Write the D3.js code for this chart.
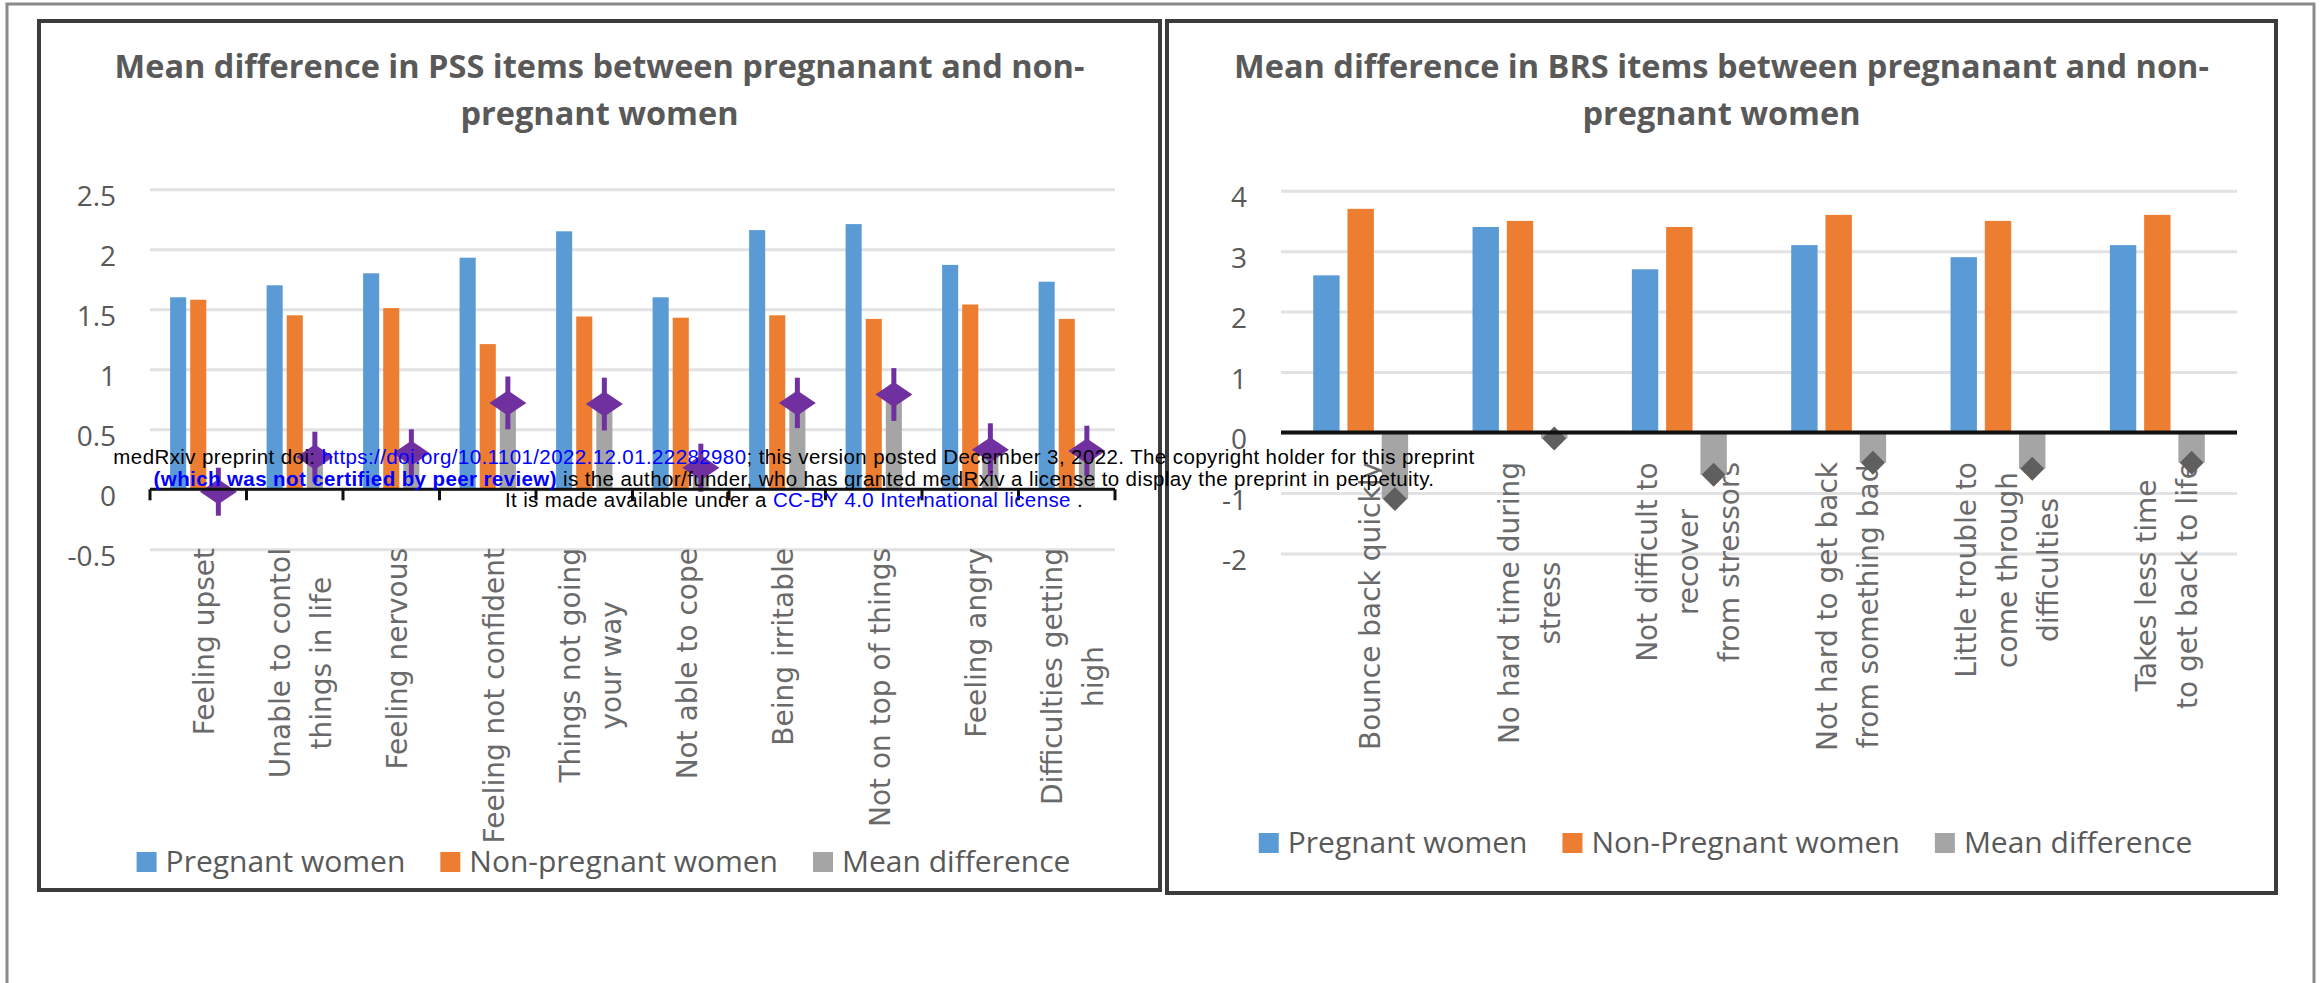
<!DOCTYPE html>
<html>
<head>
<meta charset="utf-8">
<script src="https://cdn.jsdelivr.net/npm/d3@7/dist/d3.min.js"></script>
<style>
body { margin: 0; background: #fff; }
svg { display: block; }
</style>
</head>
<body>
<svg id="fig" width="2322" height="983"></svg>
<script>
// ---- PSS chart (left) ----
var pssItems = [
  ["Feeling upset"],
  ["Unable to contol", "things in life"],
  ["Feeling nervous"],
  ["Feeling not confident"],
  ["Things not going", "your way"],
  ["Not able to cope"],
  ["Being irritable"],
  ["Not on top of things"],
  ["Feeling angry"],
  ["Difficulties getting", "high"]
];
var pssPregnant    = [1.60, 1.70, 1.80, 1.93, 2.15, 1.60, 2.16, 2.21, 1.87, 1.73];
var pssNonPregnant = [1.58, 1.45, 1.51, 1.21, 1.44, 1.43, 1.45, 1.42, 1.54, 1.42];
var pssMeanDiff    = [-0.02, 0.27, 0.30, 0.72, 0.71, 0.18, 0.72, 0.79, 0.33, 0.32];
var pssDiffError   = [0.20, 0.21, 0.20, 0.22, 0.22, 0.20, 0.21, 0.22, 0.22, 0.21];
var pssTicks = [-0.5, 0, 0.5, 1, 1.5, 2, 2.5];
var pssLegend = ["Pregnant women", "Non-pregnant women", "Mean difference"];

// ---- BRS chart (right) ----
var brsItems = [
  ["Bounce back quickly"],
  ["No hard time during", "stress"],
  ["Not difficult to", "recover", "from stressors"],
  ["Not hard to get back", "from something bad"],
  ["Little trouble to", "come through", "difficulties"],
  ["Takes less time", "to get back to life"]
];
var brsPregnant    = [2.6, 3.4, 2.7, 3.1, 2.9, 3.1];
var brsNonPregnant = [3.7, 3.5, 3.4, 3.6, 3.5, 3.6];
var brsMeanDiff    = [-1.1, -0.1, -0.7, -0.5, -0.6, -0.5];
var brsTicks = [-2, -1, 0, 1, 2, 3, 4];
var brsLegend = ["Pregnant women", "Non-Pregnant women", "Mean difference"];

var colors = ["#5B9BD5", "#ED7D31", "#A5A5A5"];
var titleFont = "'Open Sans', sans-serif";
var labelFont = "'DejaVu Sans', sans-serif";

var svg = d3.select("#fig");

// page frame
svg.append("rect").attr("x", 7).attr("y", 4).attr("width", 2307).attr("height", 1100)
  .attr("fill", "none").attr("stroke", "#8a8a8a").attr("stroke-width", 3);

function drawChart(o) {
  var g = svg.append("g");

  g.append("rect").attr("x", o.box[0]).attr("y", o.box[1]).attr("width", o.box[2]).attr("height", o.box[3])
    .attr("fill", "#fff").attr("stroke", "#3c3c3c").attr("stroke-width", 4);

  var cx = o.box[0] + o.box[2] / 2;

  // title
  var title = g.append("text").attr("text-anchor", "middle").attr("font-family", titleFont)
    .attr("font-weight", "bold").attr("font-size", o.titleSize).attr("fill", "#595959");
  o.title.forEach(function(s, j) {
    title.append("tspan").attr("x", cx).attr("y", 78 + j * 47).text(s);
  });

  var x0 = d3.scaleBand().domain(d3.range(o.items.length)).range(o.xRange).padding(0);
  var x1 = d3.scaleBand().domain([0, 1, 2]).range([0, x0.bandwidth()])
    .paddingInner(o.innerPad).paddingOuter(o.outerPad);
  var y = d3.scaleLinear().domain(o.yDomain).range(o.yRange);
  var w = o.xRange[1] - o.xRange[0];

  // gridlines
  g.append("g").attr("transform", "translate(" + o.xRange[0] + ",0)")
    .call(d3.axisLeft(y).tickValues(o.ticks).tickSize(-w).tickFormat(""))
    .call(function(s) { s.select(".domain").remove(); })
    .call(function(s) { s.selectAll("line").attr("stroke", "#e2e2e2").attr("stroke-width", 3); });

  // value labels
  g.append("g").attr("transform", "translate(" + (o.xRange[0] - 34) + ",0)")
    .call(d3.axisLeft(y).tickValues(o.ticks).tickSize(0).tickPadding(0).tickFormat(function(d) { return String(d); }))
    .call(function(s) { s.select(".domain").remove(); })
    .call(function(s) {
      s.selectAll("text").attr("font-family", titleFont).attr("font-size", 28)
        .attr("fill", "#595959").attr("dy", "0.58em");
    });

  // category labels, rotated, lines centred, block hanging from o.labelTop
  o.items.forEach(function(lines, i) {
    var lg = g.append("g")
      .attr("transform", "translate(" + (x0(i) + x0.bandwidth() / 2) + "," + o.labelTop + ") rotate(-90)");
    var texts = lines.map(function(s, j) {
      return lg.append("text").attr("font-family", labelFont).attr("font-size", 28)
        .attr("fill", "#6a6a6a").attr("text-anchor", "middle")
        .attr("y", (j - (lines.length - 1) / 2) * 41 + o.labelShift).text(s);
    });
    var maxLen = d3.max(texts, function(t) { return t.node().getComputedTextLength(); });
    texts.forEach(function(t) { t.attr("x", -maxLen / 2); });
  });

  // bars
  var series = [o.pregnant, o.nonPregnant, o.meanDiff];
  g.append("g").selectAll("g").data(series).join("g")
    .attr("fill", function(d, k) { return colors[k]; })
    .selectAll("rect")
    .data(function(vals, k) { return vals.map(function(v, i) { return {i: i, k: k, v: v}; }); })
    .join("rect")
    .attr("x", function(d) { return x0(d.i) + x1(d.k); })
    .attr("width", x1.bandwidth())
    .attr("y", function(d) { return y(Math.max(0, d.v)); })
    .attr("height", function(d) { return Math.abs(y(d.v) - y(0)); });

  // mean difference markers
  var mx = function(i) { return x0(i) + x1(2) + x1.bandwidth() / 2; };
  if (o.error) {
    g.append("g").selectAll("line").data(o.meanDiff).join("line")
      .attr("x1", function(d, i) { return mx(i); }).attr("x2", function(d, i) { return mx(i); })
      .attr("y1", function(d, i) { return y(d - o.error[i]); })
      .attr("y2", function(d, i) { return y(d + o.error[i]); })
      .attr("stroke", o.markerColor).attr("stroke-width", 5);
  }
  var mw = o.markerSize[0], mh = o.markerSize[1];
  var diamond = "M0," + (-mh) + "L" + mw + ",0L0," + mh + "L" + (-mw) + ",0Z";
  g.append("g").selectAll("path").data(o.meanDiff).join("path")
    .attr("d", diamond).attr("fill", o.markerColor)
    .attr("transform", function(d, i) { return "translate(" + mx(i) + "," + y(d) + ")"; });

  // zero axis line (+ tick marks between categories for the left chart)
  g.append("line").attr("x1", o.xRange[0]).attr("x2", o.xRange[1])
    .attr("y1", y(0)).attr("y2", y(0)).attr("stroke", "#111").attr("stroke-width", o.axisWidth);
  if (o.catTicks) {
    g.append("g").selectAll("line").data(d3.range(o.items.length + 1)).join("line")
      .attr("x1", function(i) { return o.xRange[0] + i * x0.step(); })
      .attr("x2", function(i) { return o.xRange[0] + i * x0.step(); })
      .attr("y1", y(0)).attr("y2", y(0) + 11).attr("stroke", "#111").attr("stroke-width", 3);
  }

  // legend
  var leg = g.append("g");
  var items = o.legend.map(function(s, k) {
    var it = leg.append("g");
    it.append("rect").attr("width", 20).attr("height", 20).attr("y", -20).attr("fill", colors[k]);
    var t = it.append("text").attr("x", 29).attr("font-family", titleFont).attr("font-size", 30)
      .attr("fill", "#595959").text(s);
    return {g: it, w: 29 + t.node().getComputedTextLength()};
  });
  var total = d3.sum(items, function(d) { return d.w; }) + 35 * (items.length - 1);
  var lx = cx + 4 - total / 2;
  items.forEach(function(d) {
    d.g.attr("transform", "translate(" + lx + "," + o.legendY + ")");
    lx += d.w + 35;
  });
}

drawChart({
  box: [39, 21, 1121, 869],
  title: ["Mean difference in PSS items between pregnanant and non-", "pregnant women"],
  titleSize: 32.5,
  items: pssItems, pregnant: pssPregnant, nonPregnant: pssNonPregnant,
  meanDiff: pssMeanDiff, error: pssDiffError, ticks: pssTicks, legend: pssLegend,
  xRange: [150, 1115], yDomain: [-0.5, 2.5], yRange: [549.3, 189.3],
  innerPad: 0.2, outerPad: 1.0,
  labelTop: 548, labelShift: 16,
  markerColor: "#7030A0", markerSize: [18.5, 12.5],
  axisWidth: 3, catTicks: true, legendY: 872
});

drawChart({
  box: [1167, 21, 1109, 872],
  title: ["Mean difference in BRS items between pregnanant and non-", "pregnant women"],
  titleSize: 32.5,
  items: brsItems, pregnant: brsPregnant, nonPregnant: brsNonPregnant,
  meanDiff: brsMeanDiff, error: null, ticks: brsTicks, legend: brsLegend,
  xRange: [1281, 2237], yDomain: [-2, 4], yRange: [553.4, 190.7],
  innerPad: 0.23, outerPad: 0.94,
  labelTop: 462, labelShift: 19,
  markerColor: "#5f5f5f", markerSize: [12, 12],
  axisWidth: 4, catTicks: false, legendY: 853
});

// preprint stamp on top
var stamp = svg.append("g").attr("font-family", "'Liberation Sans', Arial, sans-serif")
  .attr("font-size", 20.5).attr("letter-spacing", 0.4).attr("text-anchor", "middle");
var stampLines = [
  [["medRxiv preprint doi: ", "#000", "normal"], ["https://doi.org/10.1101/2022.12.01.22282980", "#0000ff", "normal"],
   ["; this version posted December 3, 2022. The copyright holder for this preprint", "#000", "normal"]],
  [["(which was not certified by peer review)", "#0000ff", "bold"],
   [" is the author/funder, who has granted medRxiv a license to display the preprint in perpetuity.", "#000", "normal"]],
  [["It is made available under a ", "#000", "normal"], ["CC-BY 4.0 International license", "#0000ff", "normal"], [" .", "#000", "normal"]]
];
stampLines.forEach(function(parts, j) {
  var t = stamp.append("text").attr("x", 794).attr("y", 464 + j * 21.5);
  parts.forEach(function(p) {
    t.append("tspan").attr("fill", p[1]).attr("font-weight", p[2]).text(p[0]);
  });
});
</script>
</body>
</html>
